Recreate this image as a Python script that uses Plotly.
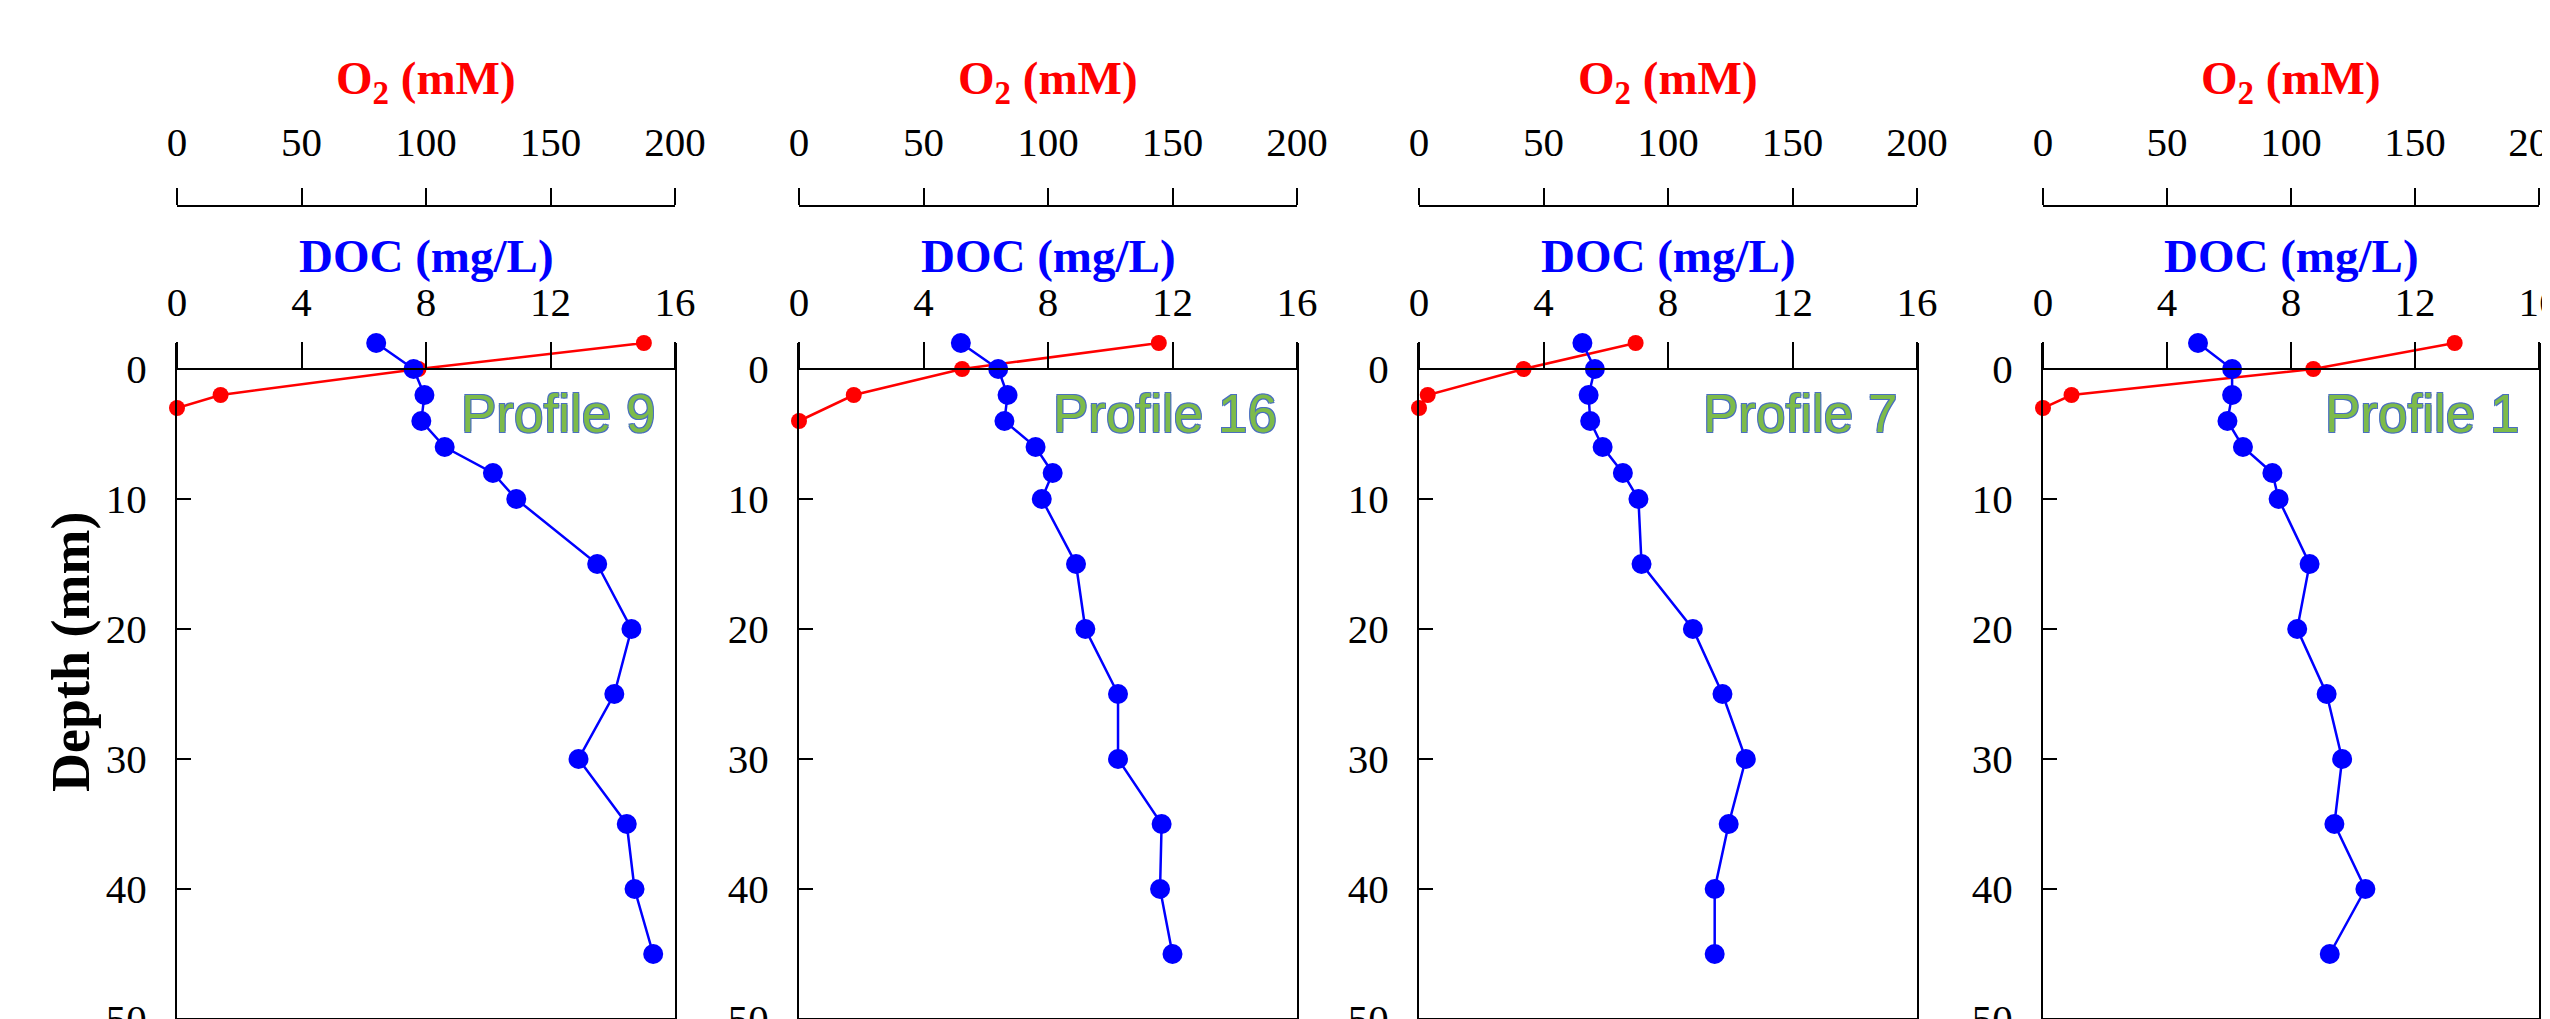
import plotly.graph_objects as go

# ---------------- data ----------------
profiles = ["Profile 9", "Profile 16", "Profile 7", "Profile 1"]

depth_doc = [-2, 0, 2, 4, 6, 8, 10, 15, 20, 25, 30, 35, 40, 45]
doc_p9 = [6.4, 7.6, 7.95, 7.85, 8.6, 10.15, 10.9, 13.5, 14.6, 14.05, 12.9, 14.45, 14.7, 15.3]
doc_p16 = [5.2, 6.4, 6.7, 6.6, 7.6, 8.15, 7.8, 8.9, 9.2, 10.25, 10.25, 11.65, 11.6, 12.0]
doc_p7 = [5.25, 5.65, 5.45, 5.5, 5.9, 6.55, 7.05, 7.15, 8.8, 9.75, 10.5, 9.95, 9.5, 9.5]
doc_p1 = [5.0, 6.1, 6.1, 5.95, 6.45, 7.4, 7.6, 8.6, 8.2, 9.15, 9.65, 9.4, 10.4, 9.25]

depth_o2_p9 = [-2, 0, 2, 3]
o2_p9 = [187.5, 97, 17.5, 0]
depth_o2_p16 = [-2, 0, 2, 4]
o2_p16 = [144.5, 65.5, 22, 0]
depth_o2_p7 = [-2, 0, 2, 3]
o2_p7 = [87, 42, 3.5, 0]
depth_o2_p1 = [-2, 0, 2, 3]
o2_p1 = [166, 109, 11.5, 0]

doc_ticks = [0, 4, 8, 12, 16]
o2_ticks = [0, 50, 100, 150, 200]
depth_ticks = [0, 10, 20, 30, 40, 50]

doc_series = [doc_p9, doc_p16, doc_p7, doc_p1]
o2_series = [(depth_o2_p9, o2_p9), (depth_o2_p16, o2_p16),
             (depth_o2_p7, o2_p7), (depth_o2_p1, o2_p1)]

# ---------------- layout geometry ----------------
W, H = 2550, 1019
frames = [(169, 667), (791, 1289), (1411, 1909), (2035, 2531)]
y_top_px, y_bot_px = 335, 1011      # depth -2 .. 50
doc_line_px = 361                   # depth 0 line
o2_line_px = 198

def px_y(p):
    return 1 - p / H

SERIF = "Liberation Serif, Times New Roman, serif"
RED = "#FF0000"
BLUE = "#0000FF"
TICKFONT = dict(family=SERIF, size=41, color="black")

fig = go.Figure()
layout = dict(
    width=W, height=H,
    margin=dict(l=0, r=0, t=0, b=0, autoexpand=False),
    paper_bgcolor="white", plot_bgcolor="white",
    showlegend=False,
    font=dict(family=SERIF, size=41, color="black"),
)
annotations = []
shapes = []

for i, (x0, x1) in enumerate(frames):
    n = i + 1
    xo = 2 * i + 1   # O2 axis (base)
    xd = 2 * i + 2   # DOC axis (overlay)
    xo_name = "xaxis" if xo == 1 else f"xaxis{xo}"
    xd_name = f"xaxis{xd}"
    y_name = "yaxis" if n == 1 else f"yaxis{n}"
    xo_ref = "x" if xo == 1 else f"x{xo}"
    xd_ref = f"x{xd}"
    y_ref = "y" if n == 1 else f"y{n}"
    dom = [x0 / W, x1 / W]

    layout[xo_name] = dict(
        domain=dom, range=[0, 200], anchor="free", position=px_y(o2_line_px),
        side="top", tickvals=o2_ticks, ticks="outside", ticklen=17, tickwidth=2,
        tickcolor="black", showline=True, linecolor="black", linewidth=2,
        showgrid=False, zeroline=False, ticklabelstandoff=16, automargin=False,
        ticklabeloverflow="allow", tickfont=TICKFONT,
    )
    layout[xd_name] = dict(
        domain=dom, range=[0, 16], anchor="free", position=px_y(doc_line_px),
        overlaying=xo_ref, side="top", tickvals=doc_ticks, ticks="outside",
        ticklen=26, tickwidth=2, tickcolor="black", showline=True,
        linecolor="black", linewidth=2, showgrid=False, zeroline=False,
        ticklabelstandoff=10, automargin=False, ticklabeloverflow="allow",
        tickfont=TICKFONT,
    )
    layout[y_name] = dict(
        domain=[px_y(y_bot_px), px_y(y_top_px)], range=[50, -2], anchor=xo_ref,
        tickvals=depth_ticks, ticks="inside", ticklen=14, tickwidth=2,
        tickcolor="black", showline=True, mirror=True, linecolor="black",
        linewidth=2, showgrid=False, zeroline=False, ticklabelstandoff=20,
        automargin=False, ticklabeloverflow="allow", tickfont=TICKFONT,
    )

    d_o2, v_o2 = o2_series[i]
    fig.add_trace(go.Scatter(
        x=v_o2, y=d_o2, xaxis=xo_ref, yaxis=y_ref, mode="lines+markers",
        line=dict(color=RED, width=2.5), marker=dict(color=RED, size=16),
        cliponaxis=False, name="O2",
    ))
    fig.add_trace(go.Scatter(
        x=doc_series[i], y=depth_doc, xaxis=xd_ref, yaxis=y_ref,
        mode="lines+markers", line=dict(color=BLUE, width=2.5),
        marker=dict(color=BLUE, size=20), cliponaxis=False, name="DOC",
    ))

    # bottom frame line
    shapes.append(dict(type="line", xref=f"{xo_ref} domain", yref=f"{y_ref} domain",
                       x0=0, x1=1, y0=0, y1=0, line=dict(color="black", width=2)))

    # axis titles
    annotations.append(dict(
        text="<b>O<sub>2</sub> (mM)</b>", xref=f"{xo_ref} domain", x=0.5,
        yref="paper", y=px_y(73), xanchor="center", yanchor="middle",
        showarrow=False, font=dict(family=SERIF, size=47, color=RED),
    ))
    annotations.append(dict(
        text="<b>DOC (mg/L)</b>", xref=f"{xo_ref} domain", x=0.5,
        yref="paper", y=px_y(248), xanchor="center", yanchor="middle",
        showarrow=False, font=dict(family=SERIF, size=47, color=BLUE),
    ))
    # profile label
    annotations.append(dict(
        text=profiles[i], xref=f"{xo_ref} domain", x=1 - 18 / (x1 - x0),
        yref=y_ref, y=3.4, xanchor="right", yanchor="middle", showarrow=False,
        font=dict(family="Liberation Sans, Arial, sans-serif", size=53,
                  color="#7DBB4A",
                  shadow="-1px -1px 0 #4A6FC0, 1px -1px 0 #4A6FC0, -1px 1px 0 #4A6FC0, 1px 1px 0 #4A6FC0"),
    ))

annotations.append(dict(
    text="<b>Depth (mm)</b>", xref="paper", x=63 / W,
    yref="paper", y=px_y(644), xanchor="center", yanchor="middle",
    textangle=-90, showarrow=False, font=dict(family=SERIF, size=54, color="black"),
))

layout["annotations"] = annotations
layout["shapes"] = shapes
fig.update_layout(**layout)
fig.write_html("out.html")
